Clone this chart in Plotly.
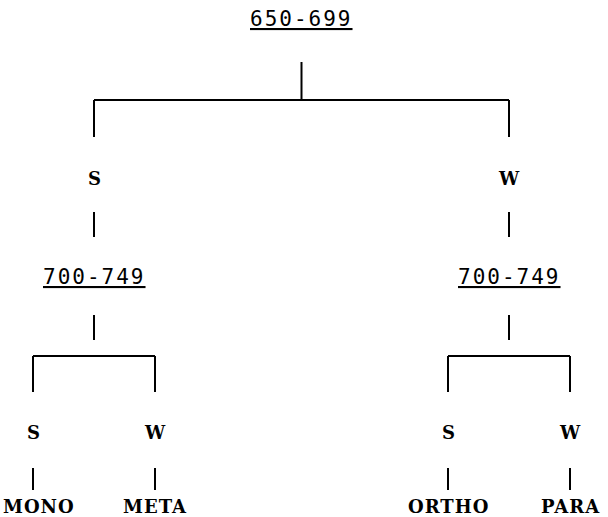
import plotly.graph_objects as go

# ---- data: the tree ----
root_label = "650-699"
branch_labels = ["S", "W"]
sub_labels = ["700-749", "700-749"]
leaf_branch_labels = [["S", "W"], ["S", "W"]]
leaf_labels = [["MONO", "META"], ["ORTHO", "PARA"]]

# ---- layout parameters (pixels, figure fills the plot area) ----
W, H = 608, 517
LEAF_X0 = 33
SIB_STEP = 122
GROUP_STEP = 415
LEAF_CHAR_W = 16.5  # approx rendered width per leaf-label character

Y_ROOT_LABEL = 19
Y_ROOT_STEM = (62, 100)
Y_BAR1 = 100
Y_DROP1 = (100, 137)
Y_BR1_LABEL = 178
Y_STEM2 = (212, 237)
Y_SUB_LABEL = 277
Y_SUB_STEM = (315, 340)
Y_BAR2 = 356
Y_DROP2 = (356, 392)
Y_BR2_LABEL = 432
Y_STEM3 = (468, 490)
Y_LEAF_LABEL = 506

# compute x positions
leaf_x = [[LEAF_X0 + g * GROUP_STEP + i * SIB_STEP for i in range(len(grp))]
          for g, grp in enumerate(leaf_labels)]
sub_x = [sum(xs) / len(xs) for xs in leaf_x]
root_x = sum(sub_x) / len(sub_x)

lx, ly = [], []
def seg(x0, y0, x1, y1):
    lx.extend([x0, x1, None])
    ly.extend([y0, y1, None])

# root stem and bar
seg(root_x, Y_ROOT_STEM[0], root_x, Y_ROOT_STEM[1])
seg(sub_x[0], Y_BAR1, sub_x[-1], Y_BAR1)
for sx in sub_x:
    seg(sx, Y_DROP1[0], sx, Y_DROP1[1])
    seg(sx, Y_STEM2[0], sx, Y_STEM2[1])
    seg(sx, Y_SUB_STEM[0], sx, Y_SUB_STEM[1])
for xs in leaf_x:
    seg(xs[0], Y_BAR2, xs[-1], Y_BAR2)
    for x in xs:
        seg(x, Y_DROP2[0], x, Y_DROP2[1])
        seg(x, Y_STEM3[0], x, Y_STEM3[1])

fig = go.Figure()
fig.add_trace(go.Scatter(x=lx, y=ly, mode="lines",
                         line=dict(color="black", width=2),
                         hoverinfo="skip", showlegend=False))

num_font = dict(family="DejaVu Sans Mono", size=21, color="black", lineposition="under")
sw_font = dict(family="DejaVu Serif", size=18, color="black", weight="bold")
leaf_font = dict(family="DejaVu Serif", size=18, color="black", weight="bold")

def spaced(t, px):
    return f"<span style='letter-spacing:{px}px'>{t}</span>"

ann = []
ann.append(dict(x=root_x, y=Y_ROOT_LABEL, text=spaced(root_label, 2), font=num_font))
for g, sx in enumerate(sub_x):
    ann.append(dict(x=sx, y=Y_BR1_LABEL, text=branch_labels[g], font=sw_font))
    ann.append(dict(x=sx, y=Y_SUB_LABEL, text=spaced(sub_labels[g], 2), font=num_font))
    for i, x in enumerate(leaf_x[g]):
        ann.append(dict(x=x, y=Y_BR2_LABEL, text=leaf_branch_labels[g][i], font=sw_font))
        lab = leaf_labels[g][i]
        half = len(lab) * LEAF_CHAR_W / 2
        a = dict(x=x, y=Y_LEAF_LABEL, text=spaced(lab, 1), font=leaf_font, xanchor="center")
        if x - half < 1:
            a.update(x=1, xanchor="left")
        elif x + half > W - 1:
            a.update(x=W - 1, xanchor="right")
        ann.append(a)
for a in ann:
    a.setdefault("xanchor", "center")
    a.update(xref="x", yref="y", showarrow=False, yanchor="middle")

fig.update_layout(
    width=W, height=H,
    margin=dict(l=0, r=0, t=0, b=0),
    paper_bgcolor="white", plot_bgcolor="white",
    xaxis=dict(range=[0, W], visible=False, fixedrange=True),
    yaxis=dict(range=[H, 0], visible=False, fixedrange=True),
    annotations=ann,
    showlegend=False,
)
fig.write_html("out.html", config={"displayModeBar": False},
               post_script="document.body.style.margin='0';document.body.style.overflow='hidden';")
